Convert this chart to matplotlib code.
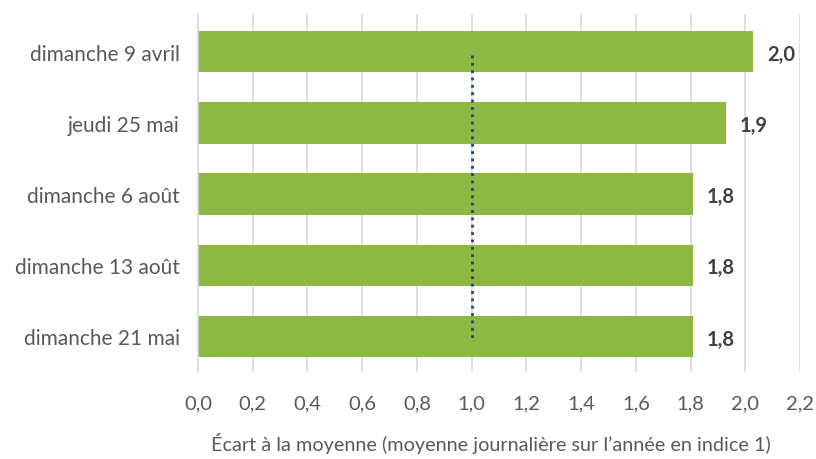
import matplotlib.pyplot as plt
import numpy as np

plt.rcParams['font.family'] = ['Lato', 'DejaVu Sans']

days = ['dimanche 9 avril', 'jeudi 25 mai', 'dimanche 6 août', 'dimanche 13 août', 'dimanche 21 mai']
values = [2.03, 1.93, 1.81, 1.81, 1.81]
labels = ['2,0', '1,9', '1,8', '1,8', '1,8']
ref_x = [1.0, 1.0]
ref_y = [0.05, 4.05]

fig = plt.figure(figsize=(8.16, 4.6), dpi=100)
ax = fig.add_axes([198 / 816, 87 / 460, 602 / 816, 358 / 460])

pos = np.arange(len(days))
ax.barh(pos, values, height=0.58, color='#8DB843', zorder=2)
ax.plot(ref_x, ref_y, linestyle=':', color='#1F3F8F', linewidth=2, zorder=3)

for p, v, lab in zip(pos, values, labels):
    ax.text(v + 0.05, p + 0.03, lab, va='center', ha='left', fontsize=14.5,
            fontweight='bold', color='#404040')

ax.set_xlim(0, 2.2)
ax.set_ylim(4.5, -0.53)
ax.set_xticks(np.arange(0, 2.21, 0.2))
ax.set_xticklabels([f'{t:.1f}'.replace('.', ',') for t in np.arange(0, 2.21, 0.2)])
ax.set_yticks(pos)
ax.set_yticklabels(days)
ax.tick_params(axis='both', length=0, labelsize=14.5, colors='#595959')
ax.tick_params(axis='y', pad=13, labelsize=15)
ax.tick_params(axis='x', pad=16)
ax.grid(axis='x', color='#D9D9D9', linewidth=1.2, zorder=0)
for s in ['top', 'right', 'bottom']:
    ax.spines[s].set_visible(False)
ax.spines['left'].set_color('#D9D9D9')
ax.spines['left'].set_linewidth(1.2)

ax.set_xlabel("Écart à la moyenne (moyenne journalière sur l’année en indice 1)",
              fontsize=14.3, color='#595959')
ax.xaxis.set_label_coords(0.487, -0.168)

fig.savefig('out.png', dpi=100)
